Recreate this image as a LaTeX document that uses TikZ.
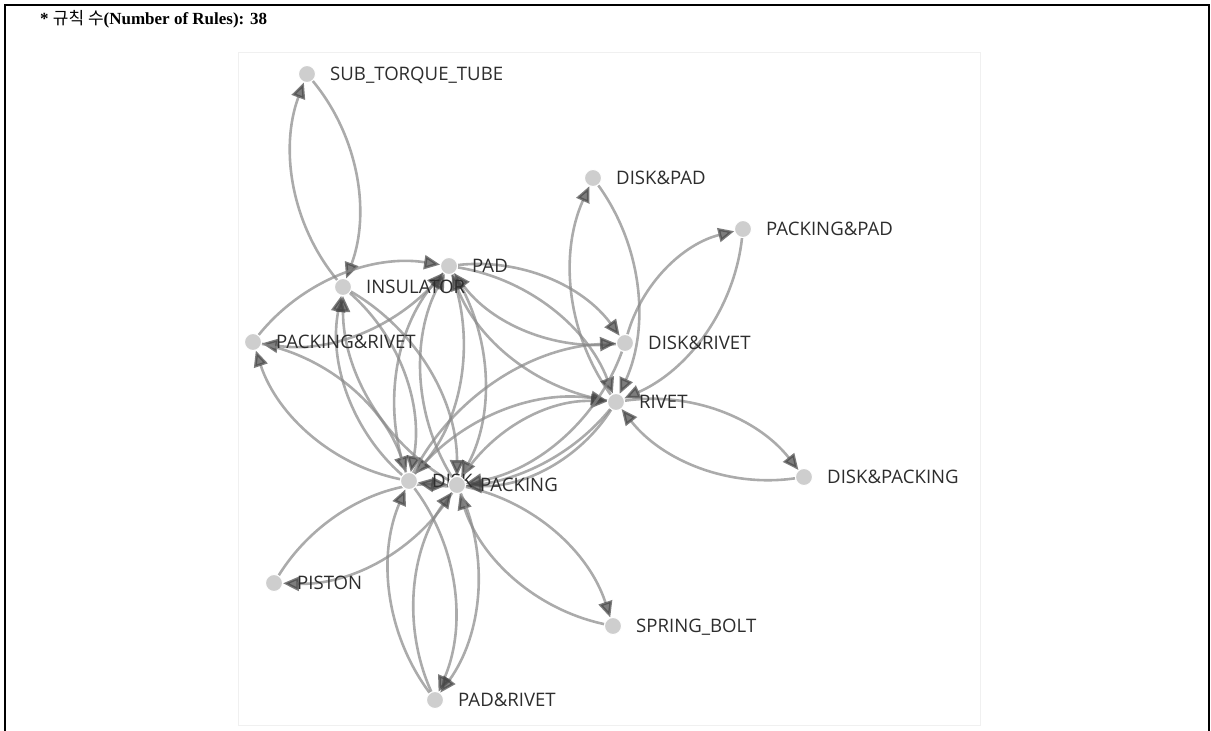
\documentclass[tikz,border=0pt]{standalone}
\usepackage{fontspec}
\setmainfont{Liberation Serif}
\newfontfamily\lblfont{Open Sans}
\newfontfamily\krfont{Noto Sans CJK KR}
\usetikzlibrary{arrows.meta}
\pgfdeclarelayer{background}
\pgfdeclarelayer{edges}
\pgfsetlayers{background,edges,main}

\definecolor{linkc}{RGB}{136,136,136}
\definecolor{tipc}{RGB}{70,70,70}
\definecolor{dotc}{RGB}{206,206,206}
\definecolor{txtc}{RGB}{45,45,45}
\definecolor{panelc}{RGB}{240,240,240}

\tikzset{
  dot/.style={circle, fill=dotc, draw=white, line width=1pt, minimum size=17pt, inner sep=0pt},
  lbl/.style={font=\lblfont\fontsize{18.6}{20}\selectfont, text=txtc, inner sep=0pt, anchor=base west},
  link/.style={draw=linkc, line width=2.6pt, opacity=0.7,
    -{Triangle[length=16pt,width=14pt,color=tipc]}},
  arc/.style={bend left=30, looseness=0.91}
}
% one graph vertex: name, x, y, caption
\newcommand\vtx[4]{%
  \node[dot] (#1) at (#2,#3) {};
  \node[lbl] (#1-l) at (#2+23,#3+6.7) {#4};
}

\begin{document}
\begin{tikzpicture}[x=1pt,y=-1pt]
\useasboundingbox (0,0) rectangle (1211,731);

% frame and title
\draw[line width=2pt] (5,731) -- (5,5) -- (1209,5) -- (1209,731);
\node[anchor=base west, inner sep=0pt, font=\bfseries\fontsize{17}{20}\selectfont] (title) at (40,24)
  {* {\krfont\mdseries 규칙 수}(Number of Rules): 38};

\begin{pgfonlayer}{background}
  \draw[panelc, line width=1pt] (238,52) rectangle (980,725);
\end{pgfonlayer}

% vertices (later ones cover earlier captions)
\vtx{SUB}{307}{74}{SUB\_TORQUE\_TUBE}
\vtx{DP}{593}{178}{DISK\&PAD}
\vtx{PP}{743}{229}{PACKING\&PAD}
\vtx{PAD}{449}{266}{PAD}
\vtx{INS}{343}{287}{INSULATOR}
\vtx{PR}{253}{342}{PACKING\&RIVET}
\vtx{DR}{625}{343}{DISK\&RIVET}
\vtx{RIV}{616}{402}{RIVET}
\vtx{DPK}{804}{477}{DISK\&PACKING}
\vtx{PIS}{274}{583}{PISTON}
\vtx{SB}{613}{626}{SPRING\_BOLT}
\vtx{PDR}{435}{700}{PAD\&RIVET}
\vtx{DISK}{409}{481}{DISK}
\vtx{PACK}{457}{485}{PACKING}

% rules
\begin{pgfonlayer}{edges}
  \draw[link] (SUB) to[arc] (INS);
  \draw[link] (INS) to[arc] (SUB);
  \draw[link] (DP) to[arc] (RIV);
  \draw[link] (RIV) to[arc] (DP);
  \draw[link] (DR) to[arc] (PP);
  \draw[link] (PP) to[arc] (RIV);
  \draw[link] (RIV) to[arc] (DPK);
  \draw[link] (DPK) to[arc] (RIV);
  \draw[link] (PACK) to[arc] (SB);
  \draw[link] (SB) to[arc] (PACK);
  \draw[link] (PACK) to[arc] (PIS);
  \draw[link] (PIS) to[arc] (PACK);
  \draw[link] (DISK) to[arc] (PDR);
  \draw[link] (PDR) to[arc] (DISK);
  \draw[link] (PACK) to[arc] (PDR);
  \draw[link] (PDR) to[arc] (PACK);
  \draw[link] (PR) to[arc] (PAD);
  \draw[link] (PAD) to[arc] (PR);
  \draw[link] (DISK) to[arc] (PR);
  \draw[link] (PR) to[arc] (DISK);
  \draw[link] (DISK) to[arc] (INS);
  \draw[link] (INS) to[arc] (DISK);
  \draw[link] (PACK) to[arc] (INS);
  \draw[link] (INS) to[arc] (PACK);
  \draw[link] (PAD) to[arc] (DISK);
  \draw[link] (DISK) to[arc] (PAD);
  \draw[link] (PAD) to[arc] (PACK);
  \draw[link] (PACK) to[arc] (PAD);
  \draw[link] (PAD) to[arc] (DR);
  \draw[link] (DR) to[arc] (PAD);
  \draw[link] (PAD) to[arc] (RIV);
  \draw[link] (RIV) to[arc] (PAD);
  \draw[link] (DISK) to[arc] (RIV);
  \draw[link] (RIV) to[arc] (DISK);
  \draw[link] (PACK) to[arc] (RIV);
  \draw[link] (RIV) to[arc] (PACK);
  \draw[link] (DISK) to[arc] (DR);
  \draw[link] (DR) to[arc] (PACK);
\end{pgfonlayer}
\end{tikzpicture}
\end{document}
